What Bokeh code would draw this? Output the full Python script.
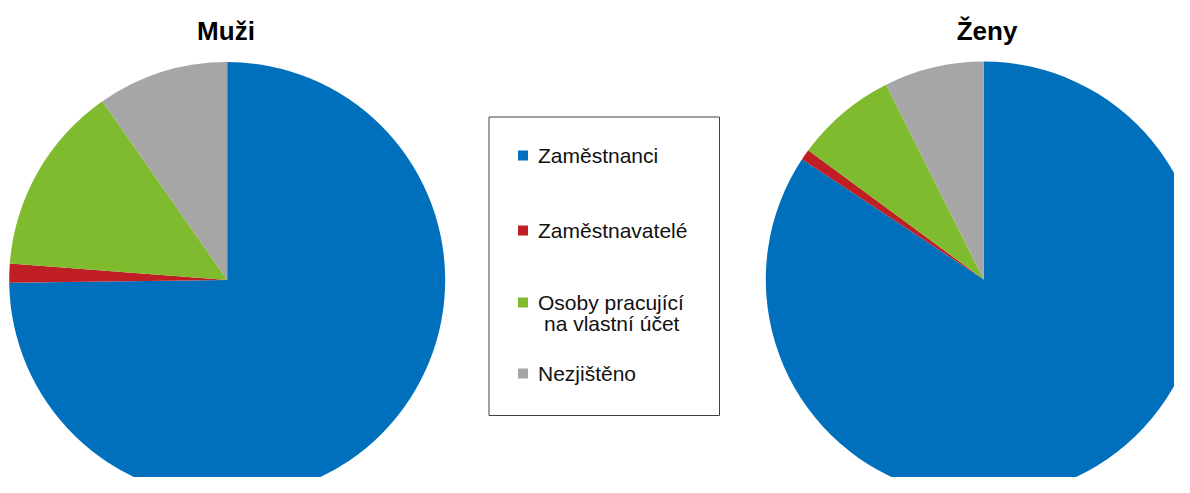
import numpy as np
from bokeh.plotting import figure
from bokeh.models import Range1d, ColumnDataSource
from bokeh.core.properties import value
from bokeh.embed import file_html
from bokeh.resources import INLINE

# ---------------- data ----------------
CATEGORIES = ["Zaměstnanci", "Zaměstnavatelé", "Osoby pracující\nna vlastní účet", "Nezjištěno"]
MUZI = [74.8, 1.4, 14.1, 9.7]
ZENY = [84.3, 0.8, 7.5, 7.4]
PANEL_TITLES = ["Muži", "Ženy"]
COLORS = ["#0070BD", "#BE1E24", "#80BA2E", "#A6A6A6"]

# ---------------- layout (screen-pixel like coordinates, y up) ----------------
W, H = 1174, 477
H_IMG = 493
FONT = "Liberation Sans"


def sy(y_screen):
    return H_IMG - y_screen


p = figure(width=W, height=H, output_backend="svg", toolbar_location=None,
           x_range=Range1d(0, W), y_range=Range1d(sy(H), sy(0)),
           min_border=0, tools="")
p.axis.visible = False
p.grid.visible = False
p.outline_line_color = None
p.background_fill_color = "white"
p.border_fill_color = "white"

PIE_CENTERS = [(226.7, 279.5), (983.3, 279.0)]
RADIUS = 218
TITLE_X = [225.5, 986.5]
TITLE_Y = 30

for vals, (cx, cy), title, tx in zip([MUZI, ZENY], PIE_CENTERS, PANEL_TITLES, TITLE_X):
    v = np.array(vals, dtype=float)
    frac = v / v.sum()
    cum_end = np.cumsum(frac)
    cum_start = cum_end - frac
    start = np.pi / 2 - 2 * np.pi * cum_end
    end = np.pi / 2 - 2 * np.pi * cum_start
    src = ColumnDataSource(dict(start=start, end=end, color=COLORS,
                                label=CATEGORIES, value=v))
    p.wedge(x=cx, y=sy(cy), radius=RADIUS, start_angle="start", end_angle="end",
            fill_color="color", line_color=None, source=src)
    p.text(x=[tx], y=[sy(TITLE_Y)], text=[title], text_font=value(FONT),
           text_font_size="26px", text_font_style="bold", text_align="center",
           text_baseline="middle", text_color="black")

# legend box
p.quad(left=[488.5], right=[719], top=[sy(116.5)], bottom=[sy(415)],
       fill_color="white", line_color="#404040", line_width=1)

LEGEND_Y = [155, 230, 302, 373]
MARK_X = 522.5
TEXT_X = 537.5
LINE_GAP = 21
CONT_INDENT = 6

mx, my, mc = [], [], []
tx_, ty_, tt_ = [], [], []
for lab, col, ly in zip(CATEGORIES, COLORS, LEGEND_Y):
    mx.append(MARK_X)
    my.append(sy(ly))
    mc.append(col)
    for k, line in enumerate(lab.split("\n")):
        tx_.append(TEXT_X + (CONT_INDENT if k > 0 else 0))
        ty_.append(sy(ly + k * LINE_GAP))
        tt_.append(line)

p.rect(x=mx, y=my, width=10, height=10, fill_color=mc, line_color=None)
p.text(x=tx_, y=ty_, text=tt_, text_font=value(FONT), text_font_size="21px",
       text_align="left", text_baseline="middle", text_color="#111111")

open("out.html", "w").write(file_html(p, INLINE))
